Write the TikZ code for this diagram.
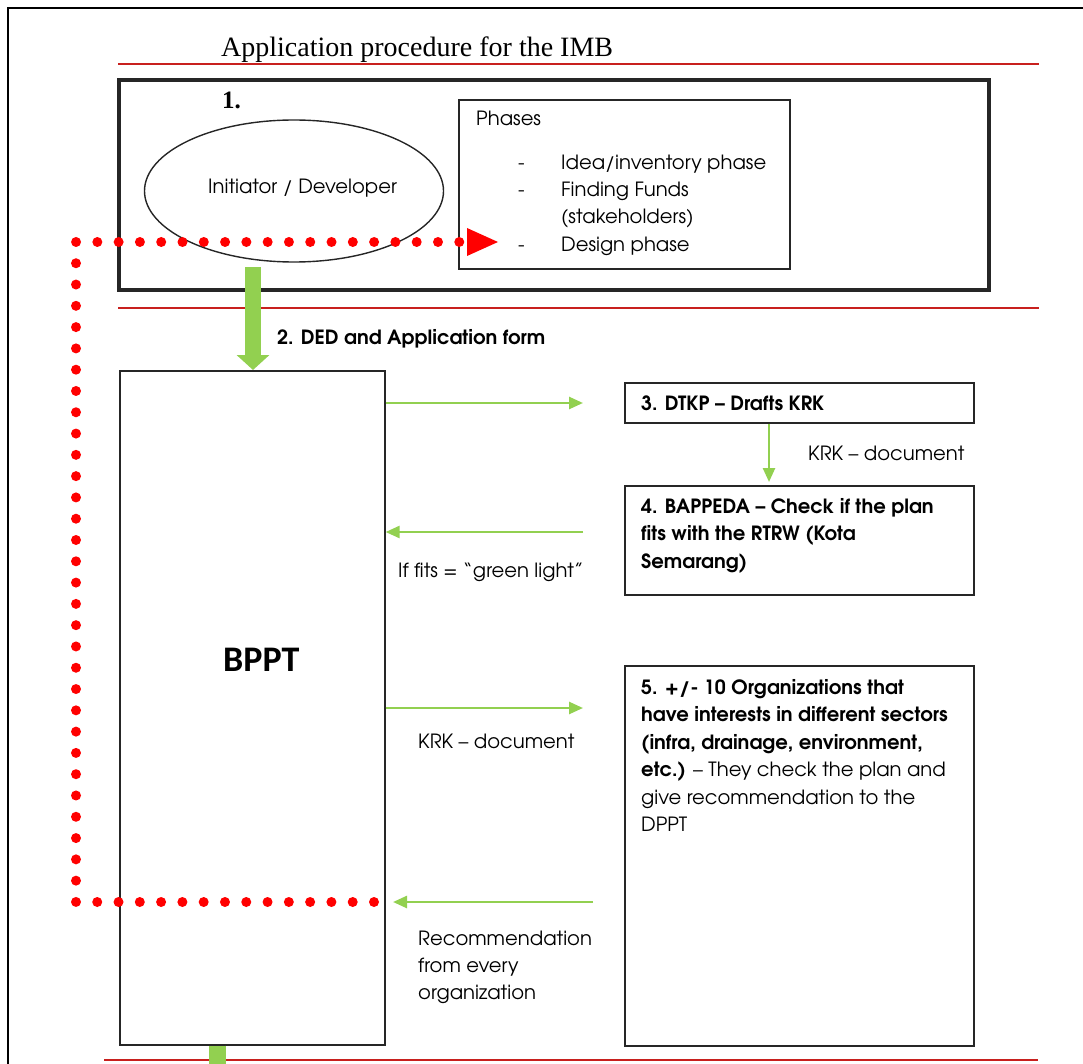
\documentclass[tikz,border=0pt]{standalone}
\usepackage{fontspec}
\setmainfont{Liberation Serif}
\newfontfamily\gothic{texgyreadventor}[Extension=.otf,UprightFont=*-regular,BoldFont=*-bold,Ligatures=TeX]
\newfontfamily\calib{Carlito}
\usetikzlibrary{arrows.meta,shapes.geometric}
\definecolor{gr}{HTML}{92D050}
\definecolor{rd}{HTML}{FF0000}
\definecolor{ln}{HTML}{C8201E}
\tikzset{
  garrow/.style={draw=gr, line width=2.5pt, -{Triangle[length=14pt,width=12pt]}},
  bigarrow/.style={draw=gr, line width=16pt, -{Triangle[length=15pt,width=32pt]}},
  boxx/.style={draw=black!85, line width=1.6pt, inner sep=0, anchor=north west},
  txt/.style={font={\gothic\fontsize{19.6}{27.5}\selectfont}, inner sep=0, anchor=base west},
  btxt/.style={font={\gothic\bfseries\fontsize{19.6}{27.5}\selectfont}, inner sep=0, anchor=base west},
  redline/.style={draw=ln, line width=2pt},
  dotline/.style={draw=rd, line width=10pt, line cap=round, line join=round, dash pattern=on 0pt off 21.29pt},
}
\begin{document}
\begin{tikzpicture}[x=1pt,y=-1pt]
\useasboundingbox (0,0) rectangle (1083,1064);
\clip (0,0) rectangle (1083,1064);
% page frame
\coordinate (fa) at (8,1080);
\coordinate (fb) at (8,8);
\coordinate (fc) at (1100,8);
\draw[line width=2pt] (fa) -- (fb) -- (fc);
% title
\node[inner sep=0, anchor=base west, font=\fontsize{28}{30}\selectfont] (title) at (221,57) {Application procedure for the IMB};
\coordinate (l1a) at (118,64); \coordinate (l1b) at (1039,64);
\draw[redline] (l1a) -- (l1b);
\coordinate (l2a) at (118,308); \coordinate (l2b) at (1039,308);
\draw[redline] (l2a) -- (l2b);
\coordinate (l3a) at (104,1060); \coordinate (l3b) at (1038,1060);
\draw[redline] (l3a) -- (l3b);
% box 1
\node[boxx, line width=4pt, minimum width=870pt, minimum height=210pt] (box1) at (117,78) {};
\node[inner sep=0, anchor=base west, font=\bfseries\fontsize{25}{28}\selectfont] (one) at (222,109) {1.};
\node[draw=black!85, line width=1.4pt, ellipse, minimum width=299pt, minimum height=142pt] (init) at (294,191) {};
\node[txt] (initT) at (208,194) {Initiator / Developer};
% phases box
\node[boxx, minimum width=331pt, minimum height=169pt] (phases) at (458,99) {};
\node[txt] (phT) at (476,126) {Phases};
\node[txt] (d1) at (518,170) {-};
\node[txt] (d2) at (518,197) {-};
\node[txt] (d3) at (518,252) {-};
\node[txt] (p1) at (561,170) {Idea/inventory phase};
\node[txt] (p2) at (561,197) {Finding Funds};
\node[txt] (p3) at (561,224) {(stakeholders)};
\node[txt] (p4) at (561,252) {Design phase};
% BPPT box
\node[boxx, minimum width=265pt, minimum height=674pt] (bppt) at (119,370) {};
\node[inner sep=0, anchor=base west, font={\calib\bfseries\fontsize{36}{40}\selectfont}] (bpptT) at (223,671) {BPPT};
% right boxes
\node[boxx, minimum width=349pt, minimum height=40pt] (b3) at (624,382) {};
\node[btxt] (b3T) at (641,410) {3. DTKP – Drafts KRK};
\node[boxx, minimum width=349pt, minimum height=109pt] (b4) at (624,485) {};
\node[btxt] (b4T1) at (641,513) {4. BAPPEDA – Check if the plan};
\node[btxt] (b4T2) at (641,540) {fits with the RTRW (Kota};
\node[btxt] (b4T3) at (641,568) {Semarang)};
\node[boxx, minimum width=349pt, minimum height=380pt] (b5) at (624,665) {};
\node[btxt] (b5T1) at (641,694) {5. +/- 10 Organizations that};
\node[btxt] (b5T2) at (641,721) {have interests in different sectors};
\node[btxt] (b5T3) at (641,749) {(infra, drainage, environment,};
\node[txt] (b5T4) at (641,776) {\textbf{etc.)} – They check the plan and};
\node[txt] (b5T5) at (641,804) {give recommendation to the};
\node[txt] (b5T6) at (641,831) {DPPT};
% labels
\node[btxt] (dedT) at (277,344) {2. DED and Application form};
\node[txt] (krk1) at (808,460) {KRK – document};
\node[txt] (fitsT) at (398,577) {If fits = “green light”};
\node[txt] (krk2) at (418,748) {KRK – document};
\node[txt] (rec1) at (418,945) {Recommendation};
\node[txt] (rec2) at (418,972) {from every};
\node[txt] (rec3) at (418,999) {organization};
% green connectors
\coordinate (gs) at (253,267);
\draw[bigarrow] (gs) -- (bppt.north -| gs);
\coordinate (gb) at (217.5,1080);
\draw[draw=gr, line width=17pt] (bppt.south -| gb) -- (gb);
\coordinate (a3) at (583,403);
\draw[garrow] (bppt.east |- a3) -- (a3);
\coordinate (a34) at (769,482);
\draw[garrow] (b3.south -| a34) -- (a34);
\coordinate (a4s) at (583,532);
\draw[garrow] (a4s) -- (bppt.east |- a4s);
\coordinate (a5) at (583,708);
\draw[garrow] (bppt.east |- a5) -- (a5);
\coordinate (a5s) at (593,902);
\coordinate (a5e) at (393,902);
\draw[garrow] (a5s) -- (a5e);
% red dotted connector
\coordinate (r1) at (374,902);
\coordinate (r2) at (76,902);
\coordinate (r3) at (76,242);
\coordinate (r4) at (462,242);
\draw[dotline] (r1) -- (r2) -- (r3) -- (r4);
\coordinate (tipb1) at (467,228);
\coordinate (tip) at (498,242);
\coordinate (tipb2) at (467,256);
\fill[rd] (tipb1) -- (tip) -- (tipb2) -- cycle;
\end{tikzpicture}
\end{document}
